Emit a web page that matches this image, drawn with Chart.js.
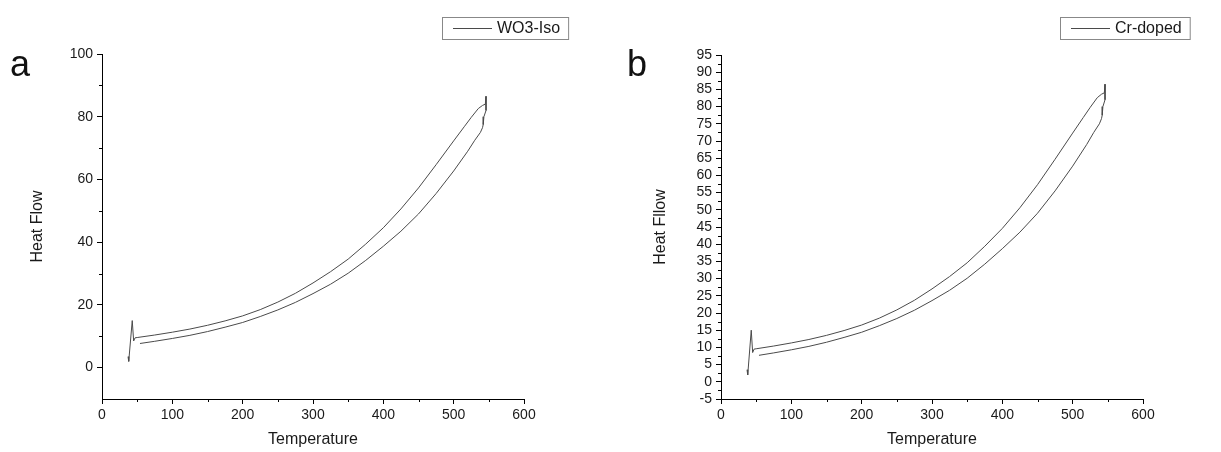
<!DOCTYPE html>
<html>
<head>
<meta charset="utf-8">
<script src="https://cdn.jsdelivr.net/npm/chart.js@4.4.0/dist/chart.umd.min.js"></script>
<style>
  body { margin: 0; background: #fff; }
  #wrap { position: relative; width: 1221px; height: 452px; font-family: "Liberation Sans", Arial, sans-serif; }
  .panel { position: absolute; top: 0; height: 452px; }
  .tag { position: absolute; font-size: 36px; color: #111; line-height: 1; }
</style>
</head>
<body>
<div id="wrap">
  <div class="panel" style="left:0;width:610px"><canvas id="chartA" width="610" height="452"></canvas></div>
  <div class="panel" style="left:610px;width:611px"><canvas id="chartB" width="611" height="452"></canvas></div>
  <div class="tag" style="left:10px;top:46px">a</div>
  <div class="tag" style="left:627px;top:46px">b</div>
</div>
<script>
// panel a: WO3-Iso, one loop (heating up, spike, cooling back)
const tempA = [37, 38, 43, 45, 47, 50, 75, 100, 125, 150, 175, 200, 225, 250, 275, 300, 325, 350, 375, 400, 425, 450, 475, 500,
  515, 525, 535, 541, 545, 546, 546, 543, 542, 541, 538, 530, 520, 500, 475, 450, 425, 400, 375, 350, 325, 300, 275, 250,
  225, 200, 175, 150, 125, 100, 75, 54];
const heatA = [3.5, 2, 15, 8.5, 9.5, 9.6, 10.4, 11.3, 12.3, 13.5, 14.9, 16.5, 18.5, 20.9, 23.7, 27, 30.6, 34.6, 39.4, 44.6, 50.6, 57.3, 64.7, 72.3,
  76.8, 79.8, 82.6, 83.6, 84, 86.5, 82, 80, 77.5, 76.5, 75, 72.5, 69, 62.7, 55.5, 49, 43.5, 38.7, 34.2, 30.1, 26.6, 23.6, 20.8, 18.4,
  16.3, 14.4, 12.9, 11.5, 10.3, 9.3, 8.4, 7.7];

// panel b: Cr-doped
const tempB = [37, 38, 43, 45, 47, 50, 75, 100, 125, 150, 175, 200, 225, 250, 275, 300, 325, 350, 375, 400, 425, 450, 475, 500,
  515, 525, 535, 541, 545, 546, 546, 543, 542, 541, 538, 530, 520, 500, 475, 450, 425, 400, 375, 350, 325, 300, 275, 250,
  225, 200, 175, 150, 125, 100, 75, 54];
const heatB = [3.5, 2, 15, 8.5, 9.5, 9.6, 10.4, 11.3, 12.3, 13.5, 14.9, 16.5, 18.5, 20.9, 23.7, 27, 30.6, 34.6, 39.4, 44.6, 50.6, 57.3, 64.7, 72.3,
  76.8, 79.8, 82.6, 83.6, 84, 86.5, 82, 80, 77.5, 76.5, 75, 72.5, 69, 62.7, 55.5, 49, 43.5, 38.7, 34.2, 30.1, 26.6, 23.6, 20.8, 18.4,
  16.3, 14.4, 12.9, 11.5, 10.3, 9.3, 8.4, 7.7];

const xTicks = [0, 100, 200, 300, 400, 500, 600];
const xMinor = [50, 150, 250, 350, 450, 550];
const yTicksA = [0, 20, 40, 60, 80, 100];
const yMinorA = [10, 30, 50, 70, 90];
const yTicksB = [-5, 0, 5, 10, 15, 20, 25, 30, 35, 40, 45, 50, 55, 60, 65, 70, 75, 80, 85, 90, 95];
const yMinorB = [-2.5, 2.5, 7.5, 12.5, 17.5, 22.5, 27.5, 32.5, 37.5, 42.5, 47.5, 52.5, 57.5, 62.5, 67.5, 72.5, 77.5, 82.5, 87.5, 92.5];

const lineColor = "#4a4a4a";
const textColor = "#1a1a1a";
const fontFamily = '"Liberation Sans", Arial, sans-serif';

// short minor ticks + boxed legend like the original plot
const extras = {
  id: "extras",
  afterDraw(chart, args, opts) {
    const ctx = chart.ctx;
    const x = chart.scales.x, y = chart.scales.y;
    ctx.save();
    ctx.strokeStyle = "#000";
    ctx.lineWidth = 1;
    ctx.beginPath();
    opts.xMinor.forEach(v => {
      const px = Math.round(x.getPixelForValue(v)) + 0.5;
      ctx.moveTo(px, y.bottom);
      ctx.lineTo(px, y.bottom + 3);
    });
    opts.yMinor.forEach(v => {
      const py = Math.round(y.getPixelForValue(v)) + 0.5;
      ctx.moveTo(x.left, py);
      ctx.lineTo(x.left - 3, py);
    });
    ctx.stroke();

    const lg = opts.legend;
    ctx.font = "16px " + fontFamily;
    const label = chart.data.datasets[0].label;
    const w = 55 + ctx.measureText(label).width + 8;
    ctx.strokeStyle = "#888";
    ctx.strokeRect(lg.x + 0.5, lg.y + 0.5, w, lg.h);
    ctx.strokeStyle = lineColor;
    ctx.beginPath();
    const my = Math.round(lg.y + lg.h / 2) + 0.5;
    ctx.moveTo(lg.x + 11, my);
    ctx.lineTo(lg.x + 50, my);
    ctx.stroke();
    ctx.fillStyle = textColor;
    ctx.textBaseline = "middle";
    ctx.fillText(label, lg.x + 55, lg.y + lg.h / 2 + 1);
    ctx.restore();
  }
};

function makeChart(id, temps, heats, cfg) {
  const points = temps.map((t, i) => ({ x: t, y: heats[i] }));
  return new Chart(document.getElementById(id), {
    type: "scatter",
    data: {
      datasets: [{
        label: cfg.label,
        data: points,
        showLine: true,
        borderColor: lineColor,
        borderWidth: 1,
        pointRadius: 0,
        tension: 0
      }]
    },
    options: {
      responsive: false,
      animation: false,
      layout: { padding: { top: cfg.padTop, right: cfg.padRight, left: 0, bottom: 0 } },
      plugins: {
        legend: { display: false },
        tooltip: { enabled: false },
        extras: { xMinor: xMinor, yMinor: cfg.yMinor, legend: cfg.legend }
      },
      scales: {
        x: {
          type: "linear",
          min: 0,
          max: 600,
          afterBuildTicks: s => { s.ticks = xTicks.map(v => ({ value: v })); },
          afterFit: s => { s.height = 53; },
          border: { display: true, color: "#000", width: 1 },
          grid: { drawOnChartArea: false, drawTicks: true, tickLength: 5, tickColor: "#000" },
          ticks: { padding: 3, autoSkip: false, maxRotation: 0, color: textColor, font: { size: 14, family: fontFamily } },
          title: {
            display: true,
            text: "Temperature",
            color: textColor,
            font: { size: 16, family: fontFamily },
            padding: { top: 0, bottom: 3 }
          }
        },
        y: {
          type: "linear",
          min: cfg.yMin,
          max: cfg.yMax,
          afterBuildTicks: s => { s.ticks = cfg.yTicks.map(v => ({ value: v })); },
          afterFit: s => { s.width = cfg.yWidth; },
          border: { display: true, color: "#000", width: 1 },
          grid: { drawOnChartArea: false, drawTicks: true, tickLength: 5, tickColor: "#000" },
          ticks: { padding: 4, autoSkip: false, color: textColor, font: { size: cfg.yFont, family: fontFamily } },
          title: {
            display: true,
            text: cfg.yTitle,
            color: textColor,
            font: { size: 16, family: fontFamily },
            padding: { top: cfg.yTitlePad, bottom: 0 }
          }
        }
      }
    },
    plugins: [extras]
  });
}

makeChart("chartA", tempA, heatA, {
  label: "WO3-Iso",
  yTitle: "Heat Flow",
  yMin: -10, yMax: 100, yFont: 14,
  yTicks: yTicksA, yMinor: yMinorA,
  yWidth: 102, padTop: 54, padRight: 86, yTitlePad: 28,
  legend: { x: 442, y: 17, h: 22 }
});

makeChart("chartB", tempB, heatB, {
  label: "Cr-doped",
  yTitle: "Heat Fllow",
  yMin: -5, yMax: 95, yFont: 14,
  yTicks: yTicksB, yMinor: yMinorB,
  yWidth: 111, padTop: 55, padRight: 78, yTitlePad: 41,
  legend: { x: 450, y: 17, h: 22 }
});
</script>
</body>
</html>
